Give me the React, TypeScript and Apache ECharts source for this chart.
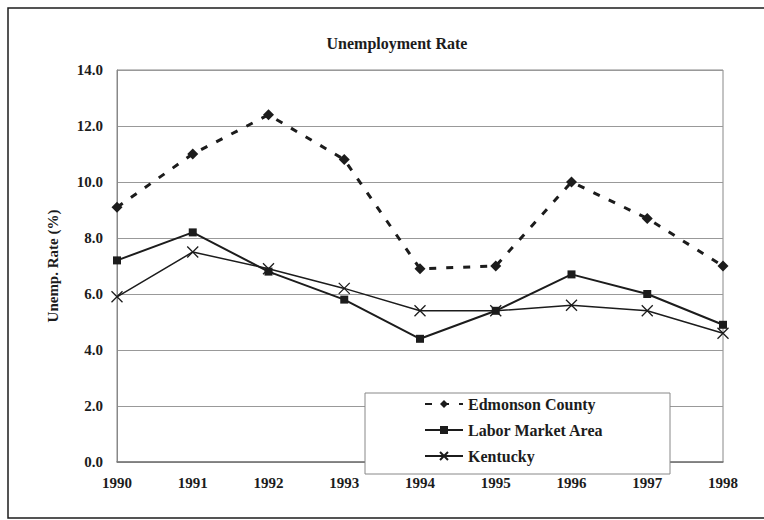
import React, { useEffect, useRef } from "react";
import * as echarts from "echarts";

const years = ["1990", "1991", "1992", "1993", "1994", "1995", "1996", "1997", "1998"];
const edmonson = [9.1, 11.0, 12.4, 10.8, 6.9, 7.0, 10.0, 8.7, 7.0];
const laborMarket = [7.2, 8.2, 6.8, 5.8, 4.4, 5.4, 6.7, 6.0, 4.9];
const kentucky = [5.9, 7.5, 6.9, 6.2, 5.4, 5.4, 5.6, 5.4, 4.6];

const FONT = "'Liberation Serif', 'DejaVu Serif', serif";
const INK = "#1c1c1c";

export default function App() {
  const ref = useRef<HTMLDivElement>(null);
  useEffect(() => {
    document.body.style.margin = "0";
    const chart = echarts.init(ref.current!, undefined, { renderer: "svg" });
    chart.setOption({
      animation: false,
      backgroundColor: "#ffffff",
      grid: {
        left: 117,
        right: 41,
        top: 70,
        bottom: 58,
        show: true,
        borderColor: "#888",
        borderWidth: 1,
      },
      graphic: [
        {
          type: "rect",
          z: 0,
          shape: { x: 8, y: 8, width: 780, height: 510 },
          style: { fill: "none", stroke: INK, lineWidth: 1.5 },
          silent: true,
        },
        {
          type: "text",
          x: 397,
          y: 43,
          style: {
            text: "Unemployment Rate",
            font: `bold 16px ${FONT}`,
            fill: INK,
            textAlign: "center",
            textVerticalAlign: "middle",
          },
        },
        {
          type: "rect",
          z: 3,
          shape: { x: 365, y: 393, width: 305, height: 81 },
          style: { fill: "#ffffff", stroke: "#888", lineWidth: 1 },
          silent: true,
        },
      ],
      legend: {
        z: 5,
        orient: "vertical",
        left: 424,
        top: 396,
        itemGap: 10,
        itemWidth: 38,
        itemHeight: 10,
        padding: 0,
        textStyle: { fontFamily: FONT, fontWeight: "bold", fontSize: 16, color: INK },
        data: ["Edmonson County", "Labor Market Area", "Kentucky"],
      },
      xAxis: {
        type: "category",
        data: years,
        boundaryGap: false,
        axisLine: { lineStyle: { color: "#777", width: 1.5 } },
        axisTick: { show: false },
        axisLabel: {
          margin: 13,
          fontFamily: FONT,
          fontWeight: "bold",
          fontSize: 15,
          color: INK,
        },
      },
      yAxis: {
        type: "value",
        min: 0,
        max: 14,
        interval: 2,
        name: "Unemp. Rate (%)",
        nameLocation: "middle",
        nameGap: 57,
        nameRotate: 90,
        nameTextStyle: { fontFamily: FONT, fontWeight: "bold", fontSize: 15, color: INK },
        axisLine: { show: true, lineStyle: { color: "#888" } },
        axisTick: { show: false },
        splitLine: { lineStyle: { color: "#999", width: 1 } },
        axisLabel: {
          margin: 14,
          fontFamily: FONT,
          fontWeight: "bold",
          fontSize: 15,
          color: INK,
          formatter: (v: number) => v.toFixed(1),
        },
      },
      series: [
        {
          name: "Edmonson County",
          type: "line",
          data: edmonson,
          symbol: "diamond",
          symbolSize: 11,
          itemStyle: { color: INK },
          lineStyle: { color: INK, width: 3, type: [7, 10] },
          z: 2,
        },
        {
          name: "Labor Market Area",
          type: "line",
          data: laborMarket,
          symbol: "rect",
          symbolSize: 8,
          itemStyle: { color: INK },
          lineStyle: { color: INK, width: 2 },
          z: 2,
        },
        {
          name: "Kentucky",
          type: "line",
          data: kentucky,
          symbol: "path://M0,0L10,10M10,0L0,10",
          symbolSize: 11,
          itemStyle: { color: "transparent", borderColor: INK, borderWidth: 1.3 },
          lineStyle: { color: INK, width: 1.5 },
          z: 2,
        },
      ],
    });
    return () => chart.dispose();
  }, []);
  return <div ref={ref} style={{ width: 764, height: 520 }} />;
}
